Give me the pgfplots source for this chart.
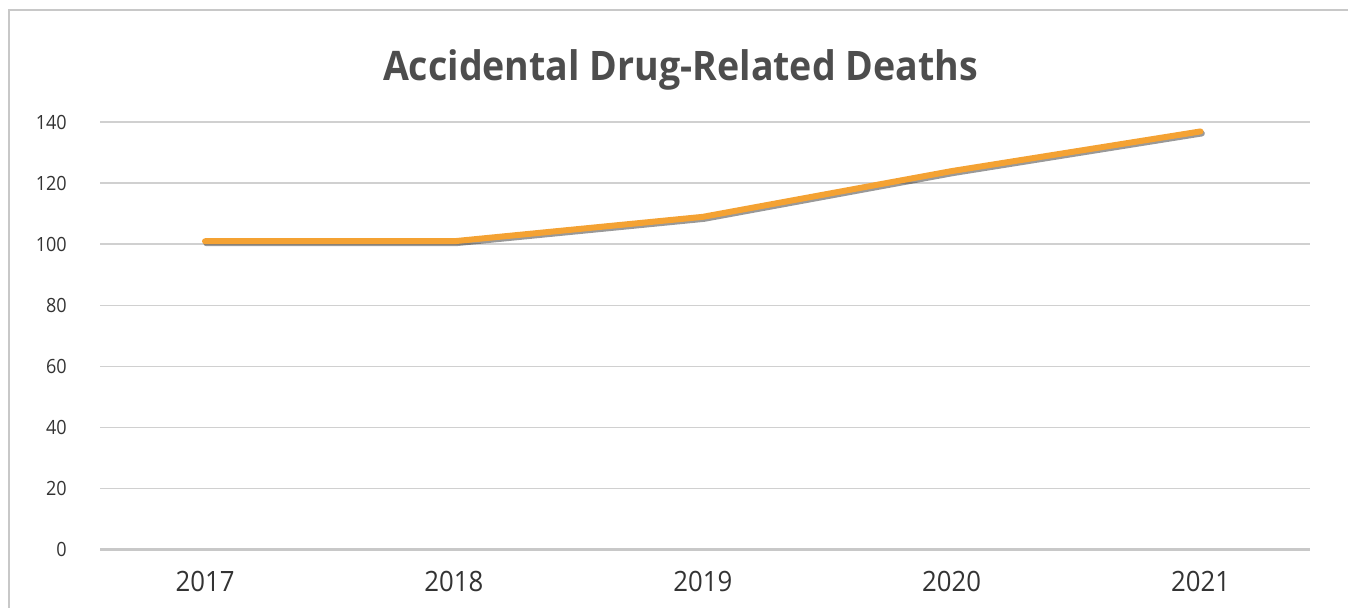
\documentclass[border=0pt]{standalone}
\usepackage{fontspec}
\setmainfont{Open Sans}[FakeStretch=0.92]
\usepackage{graphicx}
\usepackage{pgfplots}
\pgfplotsset{compat=1.18}
\definecolor{gridc}{HTML}{D0D0D0}
\definecolor{zeroc}{HTML}{C8C8C8}
\definecolor{framec}{HTML}{C8C8C8}
\definecolor{linec}{HTML}{F4A233}
\definecolor{titlec}{HTML}{4D4D4D}
\definecolor{labc}{HTML}{333333}
\begin{document}
\begin{tikzpicture}
\useasboundingbox (0,0) rectangle (1011pt,455.25pt);
\draw[color=framec, line width=1.5pt] (6.45pt,-3pt) -- (6.45pt,448.1pt) -- (1015pt,448.1pt);
\node[anchor=base, text=titlec, inner sep=0pt] at (510.4pt,395pt)
  {\resizebox{446.25pt}{\height}{\fontsize{30.5}{36}\selectfont\bfseries Accidental Drug-Related Deaths}};
\begin{axis}[
  at={(75pt,43.275pt)}, anchor=south west,
  scale only axis, width=907.5pt, height=320.25pt,
  xmin=-0.422, xmax=4.44, ymin=0, ymax=140,
  xtick={0,1,2,3,4},
  xticklabels={2017,2018,2019,2020,2021},
  ytick={20,40,60,80,100,120,140},
  extra y ticks={0},
  extra y tick style={grid style={color=zeroc, line width=2pt}},
  /pgf/number format/assume math mode=true,
  axis line style={draw=none},
  major tick length=0pt,
  ymajorgrids,
  grid style={color=gridc, line width=1.2pt},
  yticklabel style={anchor=east, inner sep=0pt, xshift=-24.75pt, text=labc, font=\fontsize{14.7}{17}\selectfont},
  xticklabel style={anchor=north, inner sep=0pt, yshift=-16.5pt, text=labc, font=\fontsize{21}{25}\selectfont},
  clip=false,
]
\addplot[black, opacity=0.4, line width=4.5pt, line cap=round, line join=round,
  transform canvas={xshift=1pt,yshift=-1.5pt}]
  coordinates {(0,101) (1,101) (2,109) (3,124) (4,137)};
\addplot[linec, line width=4.5pt, line cap=round, line join=round]
  coordinates {(0,101) (1,101) (2,109) (3,124) (4,137)};
\end{axis}
\end{tikzpicture}
\end{document}
